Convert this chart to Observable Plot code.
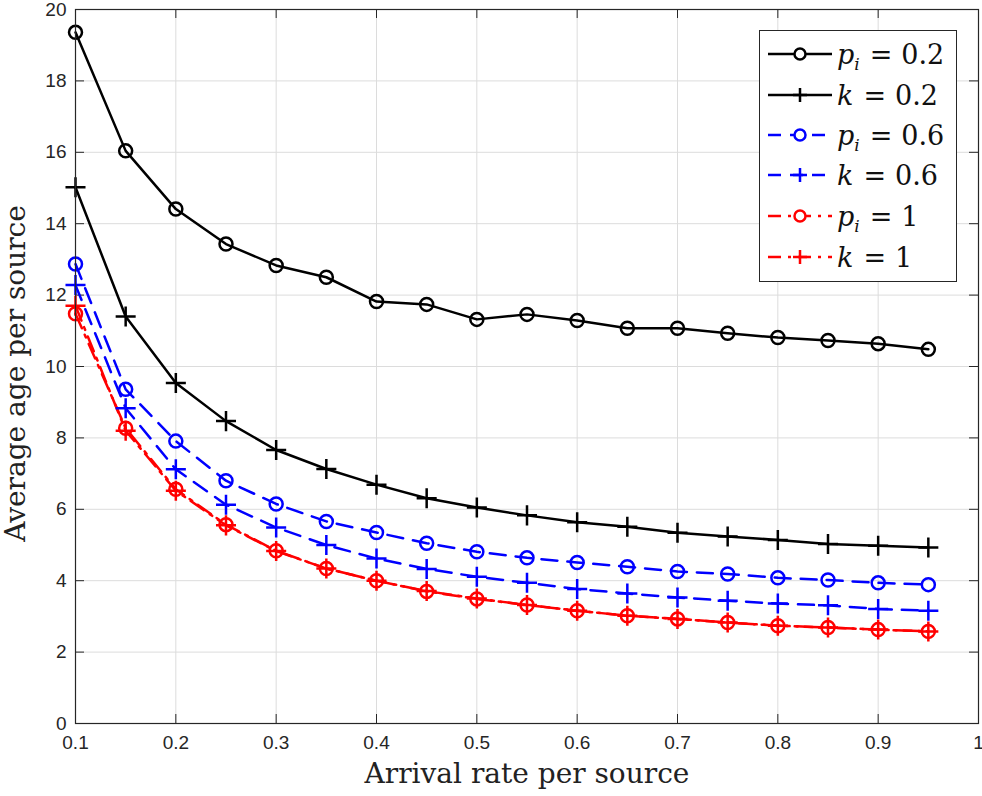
<!DOCTYPE html>
<html>
<head>
<meta charset="utf-8">
<script src="https://cdn.jsdelivr.net/npm/d3@7"></script>
<script src="https://cdn.jsdelivr.net/npm/@observablehq/plot@0.6"></script>
<style>
  html, body { margin: 0; padding: 0; background: #fff; }
  #wrap { position: relative; width: 982px; height: 796px; }
  #legend { position: absolute; left: 759px; top: 30px; width: 198px; height: 252px;
    border: 1px solid #262626; background: #fff; box-sizing: border-box; }
  .item { position: absolute; left: 0; height: 40px; display: flex; align-items: center; }
  .item svg { display: block; }
  .lab { font-family: "DejaVu Serif", serif; font-size: 27px; color: #111; margin-left: 1px; white-space: nowrap; }
  .lab sub { font-size: 17px; vertical-align: -6px; line-height: 0; }
  .lab .eq { margin: 0 9px 0 10px; }
</style>
</head>
<body>
<div id="wrap"><div id="legend"></div></div>
<script>
const xValues = [0.1, 0.15, 0.2, 0.25, 0.3, 0.35, 0.4, 0.45, 0.5, 0.55, 0.6, 0.65, 0.7, 0.75, 0.8, 0.85, 0.9, 0.95];
const p02 = [19.36, 16.04, 14.41, 13.43, 12.83, 12.50, 11.82, 11.74, 11.32, 11.46, 11.29, 11.07, 11.07, 10.93, 10.81, 10.73, 10.64, 10.48];
const k02 = [15.02, 11.40, 9.54, 8.47, 7.66, 7.13, 6.69, 6.31, 6.05, 5.83, 5.64, 5.51, 5.34, 5.24, 5.14, 5.03, 4.98, 4.93];
const p06 = [12.87, 9.36, 7.91, 6.80, 6.15, 5.66, 5.35, 5.05, 4.81, 4.64, 4.51, 4.39, 4.26, 4.19, 4.08, 4.02, 3.94, 3.89];
const k06 = [12.28, 8.83, 7.12, 6.13, 5.49, 5.00, 4.62, 4.33, 4.11, 3.94, 3.77, 3.64, 3.53, 3.44, 3.36, 3.31, 3.21, 3.16];
const p1  = [11.48, 8.27, 6.56, 5.57, 4.84, 4.34, 4.00, 3.70, 3.49, 3.32, 3.16, 3.02, 2.93, 2.83, 2.74, 2.69, 2.63, 2.58];
const k1  = [11.70, 8.20, 6.52, 5.55, 4.83, 4.34, 4.00, 3.71, 3.50, 3.32, 3.16, 3.02, 2.93, 2.83, 2.74, 2.69, 2.63, 2.58];

const xTicks = [0.1, 0.2, 0.3, 0.4, 0.5, 0.6, 0.7, 0.8, 0.9, 1];
const xTickLabels = ["0.1", "0.2", "0.3", "0.4", "0.5", "0.6", "0.7", "0.8", "0.9", "1"];
const yTicks = [0, 2, 4, 6, 8, 10, 12, 14, 16, 18, 20];
const yTickLabels = ["0", "2", "4", "6", "8", "10", "12", "14", "16", "18", "20"];

const seriesNames = ["p_i = 0.2", "k = 0.2", "p_i = 0.6", "k = 0.6", "p_i = 1", "k = 1"];
const seriesValues = [p02, k02, p06, k06, p1, k1];
const seriesColors = ["#000000", "#000000", "#0000ff", "#0000ff", "#ff0000", "#ff0000"];
const seriesDash = [null, null, "16,10", "16,10", "16,7,3,7", "16,7,3,7"];
const seriesSymbols = ["circle", "plus", "circle", "plus", "circle", "plus"];

const series = seriesNames.map((name, i) => ({
  name, color: seriesColors[i], dash: seriesDash[i], symbol: seriesSymbols[i],
  data: xValues.map((x, j) => ({x, y: seriesValues[i][j]}))
}));

const W = 982, H = 796, mt = 9, mb = 73, ml = 75, mr = 4;
const plotH = H - mt - mb, plotW = W - ml - mr;
const tickLen = 9;
const axisColor = "#262626";

const marks = [
  Plot.gridX(xTicks, {stroke: "#dcdcdc", strokeOpacity: 1, strokeWidth: 1}),
  Plot.gridY(yTicks, {stroke: "#dcdcdc", strokeOpacity: 1, strokeWidth: 1}),
  Plot.tickX(xTicks, {x: d => d, insetTop: plotH - tickLen, stroke: axisColor}),
  Plot.tickX(xTicks, {x: d => d, insetBottom: plotH - tickLen, stroke: axisColor}),
  Plot.tickY(yTicks, {y: d => d, insetRight: plotW - tickLen, stroke: axisColor}),
  Plot.tickY(yTicks, {y: d => d, insetLeft: plotW - tickLen, stroke: axisColor}),
  Plot.axisX({ticks: xTicks, tickSize: 0, tickPadding: 12, tickFormat: (d, i) => xTickLabels[i],
    fontSize: 19, fontFamily: "Liberation Sans, Arial, sans-serif", fill: axisColor, label: null}),
  Plot.axisY({ticks: yTicks, tickSize: 0, tickPadding: 9, tickFormat: (d, i) => yTickLabels[i],
    fontSize: 19, fontFamily: "Liberation Sans, Arial, sans-serif", fill: axisColor, label: null}),
];
for (const s of series) {
  marks.push(Plot.line(s.data, {x: "x", y: "y", stroke: s.color, strokeWidth: 2.5,
    strokeDasharray: s.dash || undefined}));
}
for (const s of series) {
  marks.push(Plot.dot(s.data, {x: "x", y: "y", stroke: s.color, strokeWidth: 2.5,
    symbol: s.symbol, r: 6.5, fill: "none"}));
}
marks.push(Plot.frame({stroke: axisColor, strokeWidth: 1.2}));
marks.push(Plot.text(["Arrival rate per source"], {frameAnchor: "bottom", dy: 51,
  fontSize: 28, fontFamily: "DejaVu Serif, serif", fill: "#222", lineAnchor: "middle", textAnchor: "middle"}));
marks.push(Plot.text(["Average age per source"], {frameAnchor: "left", rotate: -90, dx: -59, dy: 7,
  fontSize: 28, fontFamily: "DejaVu Serif, serif", fill: "#222", lineAnchor: "middle", textAnchor: "middle"}));

const chart = Plot.plot({
  width: W, height: H,
  marginTop: mt, marginBottom: mb, marginLeft: ml, marginRight: mr,
  x: {domain: [0.1, 1]},
  y: {domain: [0, 20]},
  style: {background: "#fff", overflow: "visible"},
  marks
});
const wrap = document.getElementById("wrap");
wrap.insertBefore(chart, wrap.firstChild);

// Legend
const legend = document.getElementById("legend");
const rowTops = [3, 44, 84, 124, 165, 206];
series.forEach((s, i) => {
  const item = document.createElement("div");
  item.className = "item";
  item.style.top = rowTops[i] + "px";
  const ns = "http://www.w3.org/2000/svg";
  const svg = document.createElementNS(ns, "svg");
  svg.setAttribute("width", 76); svg.setAttribute("height", 40);
  const ln = document.createElementNS(ns, "line");
  ln.setAttribute("x1", 8); ln.setAttribute("x2", 72); ln.setAttribute("y1", 20); ln.setAttribute("y2", 20);
  ln.setAttribute("stroke", s.color); ln.setAttribute("stroke-width", 2.5);
  if (s.dash) ln.setAttribute("stroke-dasharray", s.dash === "16,10" ? "13,9" : "13,7,3,7");
  svg.appendChild(ln);
  if (s.symbol === "circle") {
    const c = document.createElementNS(ns, "circle");
    c.setAttribute("cx", 40); c.setAttribute("cy", 20); c.setAttribute("r", 5.5);
    c.setAttribute("fill", "#fff"); c.setAttribute("stroke", s.color); c.setAttribute("stroke-width", 2.5);
    svg.appendChild(c);
  } else {
    const p = document.createElementNS(ns, "path");
    p.setAttribute("d", "M40,13V27M33,20H47");
    p.setAttribute("stroke", s.color); p.setAttribute("stroke-width", 2.5);
    svg.appendChild(p);
  }
  item.appendChild(svg);
  const lab = document.createElement("span");
  lab.className = "lab";
  const parts = s.name.split(" = ");
  lab.innerHTML = (parts[0] === "p_i" ? "<i>p</i><sub><i>i</i></sub>" : "<i>" + parts[0] + "</i>") +
    "<span class='eq'>=</span>" + parts[1];
  item.appendChild(lab);
  legend.appendChild(item);
});
</script>
</body>
</html>
